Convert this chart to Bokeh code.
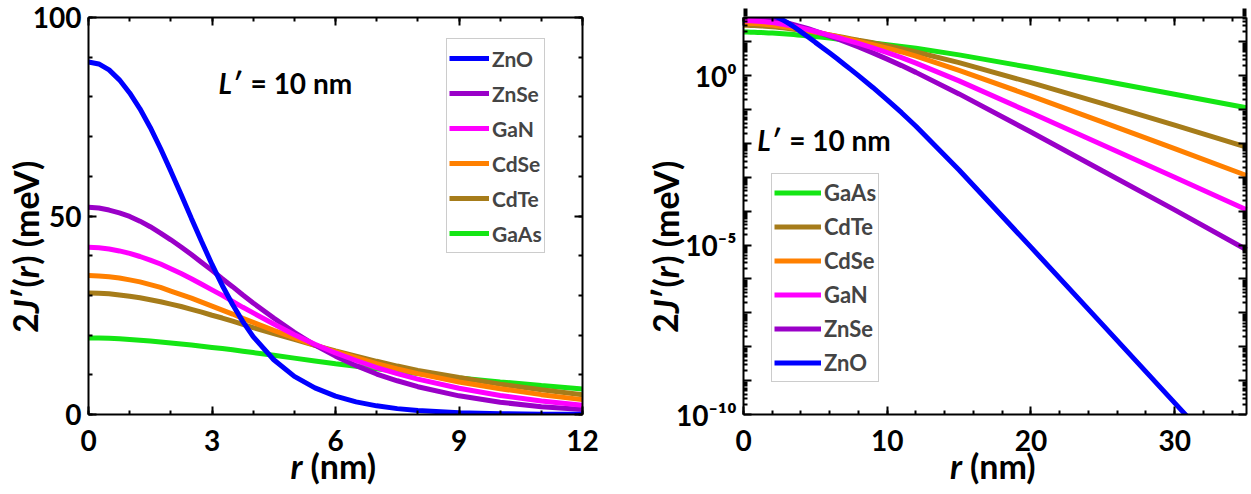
import math
from bokeh.plotting import figure
from bokeh.models import (FixedTicker, Legend, LegendItem, Label, LinearAxis, LogAxis,
                          CustomJSTickFormatter, Range1d)
from bokeh.layouts import row
from bokeh.embed import file_html
from bokeh.resources import INLINE

# ---------------- data ----------------
r_nm = [0, 0.25, 0.5, 0.75, 1, 1.25, 1.5, 1.75, 2, 2.25, 2.5, 2.75, 3, 3.25, 3.5, 3.75, 4,
        4.5, 5, 5.5, 6, 6.5, 7, 7.5, 8, 9, 10, 11, 12, 15, 20, 25, 30, 35]
ZnO = [88.8, 88.3, 86.8, 84.3, 81.0, 77.0, 72.3, 67.0, 61.3, 55.4, 49.4, 43.5, 37.8, 32.5, 27.7,
       23.4, 19.6, 13.8, 9.6, 6.7, 4.63, 3.19, 2.18, 1.48, 1.0, 0.448, 0.193, 0.0805, 0.0321,
       1.64e-3, 8.7e-6, 4.4e-8, 2.2e-10, 1.1e-12]
ZnSe = [52.2, 52.0, 51.5, 50.8, 49.9, 48.7, 47.3, 45.7, 44.0, 42.2, 40.3, 38.3, 36.3, 34.2, 32.2,
        30.1, 28.1, 24.3, 20.7, 17.5, 14.7, 12.3, 10.2, 8.5, 7.0, 4.7, 3.07, 1.98, 1.25,
        0.289, 0.0217, 1.53e-3, 1.09e-4, 7.3e-6]
GaN = [42.1, 42.0, 41.7, 41.2, 40.6, 39.8, 38.9, 37.9, 36.7, 35.5, 34.2, 32.8, 31.4, 30.0, 28.5,
       27.0, 25.6, 22.8, 20.1, 17.7, 15.5, 13.6, 11.8, 10.3, 8.9, 6.6, 4.79, 3.39, 2.34,
       0.70, 0.080, 9.0e-3, 1.0e-3, 1.1e-4]
CdSe = [35.0, 34.9, 34.7, 34.4, 33.9, 33.4, 32.7, 32.0, 31.1, 30.2, 29.3, 28.3, 27.3, 26.3, 25.3,
        24.2, 23.2, 21.2, 19.3, 17.5, 15.8, 14.3, 12.8, 11.5, 10.3, 8.2, 6.5, 5.0, 3.75,
        1.43, 0.254, 0.0426, 6.98e-3, 1.13e-3]
CdTe = [30.6, 30.55, 30.4, 30.1, 29.8, 29.4, 28.9, 28.4, 27.8, 27.2, 26.5, 25.8, 25.0, 24.3, 23.5,
        22.7, 21.9, 20.4, 18.9, 17.4, 16.0, 14.7, 13.4, 12.2, 11.1, 9.3, 7.65, 6.22, 5.0,
        2.42, 0.622, 0.149, 0.0346, 7.8e-3]
GaAs = [19.3, 19.28, 19.2, 19.1, 18.9, 18.7, 18.5, 18.25, 18.0, 17.75, 17.5, 17.2, 16.9, 16.6, 16.3,
        15.95, 15.6, 14.9, 14.2, 13.5, 12.8, 12.15, 11.5, 10.9, 10.3, 9.2, 8.2, 7.31, 6.44,
        4.11, 1.73, 0.706, 0.284, 0.113]

series = {"ZnO": ZnO, "ZnSe": ZnSe, "GaN": GaN, "CdSe": CdSe, "CdTe": CdTe, "GaAs": GaAs}
colors = {"ZnO": "#0000ff", "ZnSe": "#9a00c8", "GaN": "#ff00ff", "CdSe": "#ff8000",
          "CdTe": "#a67c1a", "GaAs": "#14e614"}
draw_order = ["GaAs", "CdTe", "CdSe", "ZnSe", "GaN", "ZnO"]
legend_left = ["ZnO", "ZnSe", "GaN", "CdSe", "CdTe", "GaAs"]
legend_right = ["GaAs", "CdTe", "CdSe", "GaN", "ZnSe", "ZnO"]

left_x_lim = (0, 12)
left_y_lim = (0, 100)
right_x_lim = (0, 35)
right_y_lim = (1e-10, 52)
left_x_ticks = [0, 3, 6, 9, 12]
left_y_ticks = [0, 50, 100]
right_x_ticks = [0, 10, 20, 30]
right_y_tick_vals = [1e-10, 1e-5, 1.0]
right_y_tick_labels = ["10⁻¹⁰", "10⁻⁵", "10⁰"]

# axis titles split into (text, italic) pieces
x_label_pieces = [("r", True), (" (nm)", False)]
y_label_pieces = [("2", False), ("J", True), ("′(", False), ("r", True), (") (meV)", False)]
note_L = "L′"
note_rest = "= 10 nm"

# ---------------- layout constants (pixels) ----------------
H = 492
BOX_TOP, BOX_BOT = 17, 414
L_W, L_X0, L_X1 = 602, 88, 582          # left figure width, box left/right
R_W, R_X0, R_X1 = 648, 141, 644         # right figure width, box left/right (local)
XLAB_Y = 465                            # centre of x titles
YLAB_Y = 244                            # centre of y titles
L_YLAB_X, R_YLAB_X = 25, 63             # centre of y titles (local x)

FONT = "Lato"
TICK_SIZE = "28px"
LABEL_PX = 34
EM = {"2": .58, "J": .42, "′": .30, "(": .311, "r": .394, ")": .311, " ": .193, "m": .855,
      "e": .53, "V": .685, "n": .58}


def text_w(s):
    return sum(EM.get(c, .55) for c in s) * LABEL_PX


def lin_map(px_lo, px_hi, v_lo, v_hi):
    k = (v_hi - v_lo) / (px_hi - px_lo)
    return lambda px: v_lo + (px - px_lo) * k


def style_axis(ax):
    ax.axis_line_width = 2
    ax.axis_line_color = "black"
    ax.major_tick_in = 8
    ax.major_tick_out = 0
    ax.minor_tick_in = 4
    ax.minor_tick_out = 0
    ax.major_tick_line_width = 2
    ax.minor_tick_line_width = 2
    ax.major_tick_line_color = "black"
    ax.minor_tick_line_color = "black"
    ax.major_label_text_font = FONT
    ax.major_label_text_font_style = "bold"
    ax.major_label_text_font_size = TICK_SIZE
    ax.major_label_text_color = "black"


def box_axes(p, xt, yt, xlim, ylim, ylog, yfmt=None):
    empty = CustomJSTickFormatter(code="return ''")
    YAx = LogAxis if ylog else LinearAxis
    b = LinearAxis(ticker=xt, fixed_location=ylim[0], bounds=xlim)
    l = YAx(ticker=yt, fixed_location=xlim[0], bounds=ylim)
    if yfmt is not None:
        l.formatter = yfmt
    t = LinearAxis(ticker=xt, fixed_location=ylim[1], bounds=xlim, formatter=empty)
    r = YAx(ticker=yt, fixed_location=xlim[1], bounds=ylim, formatter=empty)
    for ax in (b, l, t, r):
        style_axis(ax)
    b.major_label_standoff = 15
    l.major_label_standoff = 7
    for ax in (t, r):
        ax.major_label_standoff = 0
        ax.major_label_text_font_size = "1px"
    p.add_layout(b, "below")
    p.add_layout(l, "left")
    p.add_layout(t, "above")
    p.add_layout(r, "right")


def add_pieces(p, pieces, x, y, vertical):
    total = sum(text_w(t) for t, _ in pieces)
    c = -total / 2
    for t, it in pieces:
        stripped = t.lstrip(" ")
        c += (len(t) - len(stripped)) * EM[" "] * LABEL_PX   # leading blanks as a gap
        kw = dict(x=x, y=y, text=stripped, text_font=FONT,
                  text_font_style="bold italic" if it else "bold",
                  text_font_size=f"{LABEL_PX}px", text_color="black",
                  text_align="left", text_baseline="middle")
        if vertical:
            kw.update(angle=math.pi / 2, y_offset=c)
        else:
            kw.update(x_offset=c)
        p.add_layout(Label(**kw))
        c += text_w(stripped)


def add_note(p, x, y):
    p.add_layout(Label(x=x, y=y, text=note_L, text_font=FONT, text_font_style="bold italic",
                       text_font_size="28px", text_baseline="middle", text_color="black"))
    p.add_layout(Label(x=x, y=y, x_offset=32, text=note_rest, text_font=FONT,
                       text_font_style="bold", text_font_size="28px", text_baseline="middle",
                       text_color="black"))


def make_legend(p, rends, order, loc, glyph_w, font_size, item_h):
    items = [LegendItem(label=n, renderers=[rends[n]]) for n in order]
    leg = Legend(items=items, location=loc, glyph_width=glyph_w, glyph_height=item_h,
                 label_height=item_h, spacing=1, padding=2, margin=0, label_standoff=3,
                 label_text_font=FONT, label_text_font_style="bold",
                 label_text_font_size=font_size, border_line_color="#9a9a9a",
                 border_line_width=1.5, background_fill_color="white", background_fill_alpha=1)
    p.add_layout(leg)


def base_fig(w, xr, yr, ylog):
    p = figure(width=w, height=H, x_range=xr, y_range=yr,
               y_axis_type="log" if ylog else "linear",
               x_axis_location=None, y_axis_location=None,
               output_backend="svg", toolbar_location=None, min_border=0)
    p.grid.visible = False
    p.outline_line_color = None
    return p


# ---------------- left: linear ----------------
lx = lin_map(L_X0, L_X1, *left_x_lim)                 # px -> data
ly = lin_map(BOX_BOT, BOX_TOP, *left_y_lim)
p1 = base_fig(L_W, Range1d(lx(0), lx(L_W)), Range1d(ly(H), ly(0)), False)

n12 = sum(1 for v in r_nm if v <= left_x_lim[1])
rend1 = {}
for n in draw_order:
    rend1[n] = p1.line(r_nm[:n12], series[n][:n12], line_color=colors[n], line_width=5)
# white mask outside the plot box (clips lines like a frame does)
p1.quad(left=lx(0), right=lx(L_W), bottom=ly(H), top=left_y_lim[0],
        fill_color="white", line_color=None)

xt1 = FixedTicker(ticks=left_x_ticks, minor_ticks=list(range(0, 13)))
yt1 = FixedTicker(ticks=left_y_ticks, minor_ticks=list(range(0, 101, 10)))
box_axes(p1, xt1, yt1, left_x_lim, left_y_lim, False)

make_legend(p1, rend1, legend_left, (446, H - 253), 40, "21px", 34)
add_note(p1, 3.16, 83.4)
add_pieces(p1, x_label_pieces, sum(left_x_lim) / 2, ly(XLAB_Y), vertical=False)
add_pieces(p1, y_label_pieces, lx(L_YLAB_X), ly(YLAB_Y), vertical=True)

# ---------------- right: log ----------------
rx = lin_map(R_X0, R_X1, *right_x_lim)
lg = lin_map(BOX_BOT, BOX_TOP, math.log10(right_y_lim[0]), math.log10(right_y_lim[1]))
ry = lambda px: 10 ** lg(px)
p2 = base_fig(R_W, Range1d(rx(0), rx(R_W)), Range1d(ry(H), ry(0)), True)

rend2 = {}
for n in draw_order:
    rend2[n] = p2.line(r_nm, series[n], line_color=colors[n], line_width=5)
p2.quad(left=rx(0), right=rx(R_W), bottom=ry(H), top=right_y_lim[0],
        fill_color="white", line_color=None)
p2.quad(left=rx(0), right=rx(R_W), bottom=right_y_lim[1], top=ry(0),
        fill_color="white", line_color=None)

xt2 = FixedTicker(ticks=right_x_ticks, minor_ticks=list(range(0, 36, 2)))
decades = [10.0 ** k for k in range(-10, 2)]
subs = [m * 10.0 ** k for k in range(-10, 2) for m in range(2, 10)]
yt2 = FixedTicker(ticks=decades, minor_ticks=subs)
yfmt2 = CustomJSTickFormatter(
    args=dict(vals=right_y_tick_vals, labs=right_y_tick_labels),
    code="""
    for (let i = 0; i < vals.length; i++) {
        if (Math.abs(Math.log10(tick) - Math.log10(vals[i])) < 1e-6) { return labs[i]; }
    }
    return '';
    """)
box_axes(p2, xt2, yt2, right_x_lim, right_y_lim, True, yfmt2)

make_legend(p2, rend2, legend_right, (169, H - 382), 47, "22px", 33)
add_note(p2, 0.95, 0.0129)
add_pieces(p2, x_label_pieces, sum(right_x_lim) / 2, ry(XLAB_Y), vertical=False)
add_pieces(p2, y_label_pieces, rx(R_YLAB_X), ry(YLAB_Y), vertical=True)

layout = row(p1, p2)
open("out.html", "w").write(file_html(layout, INLINE))
